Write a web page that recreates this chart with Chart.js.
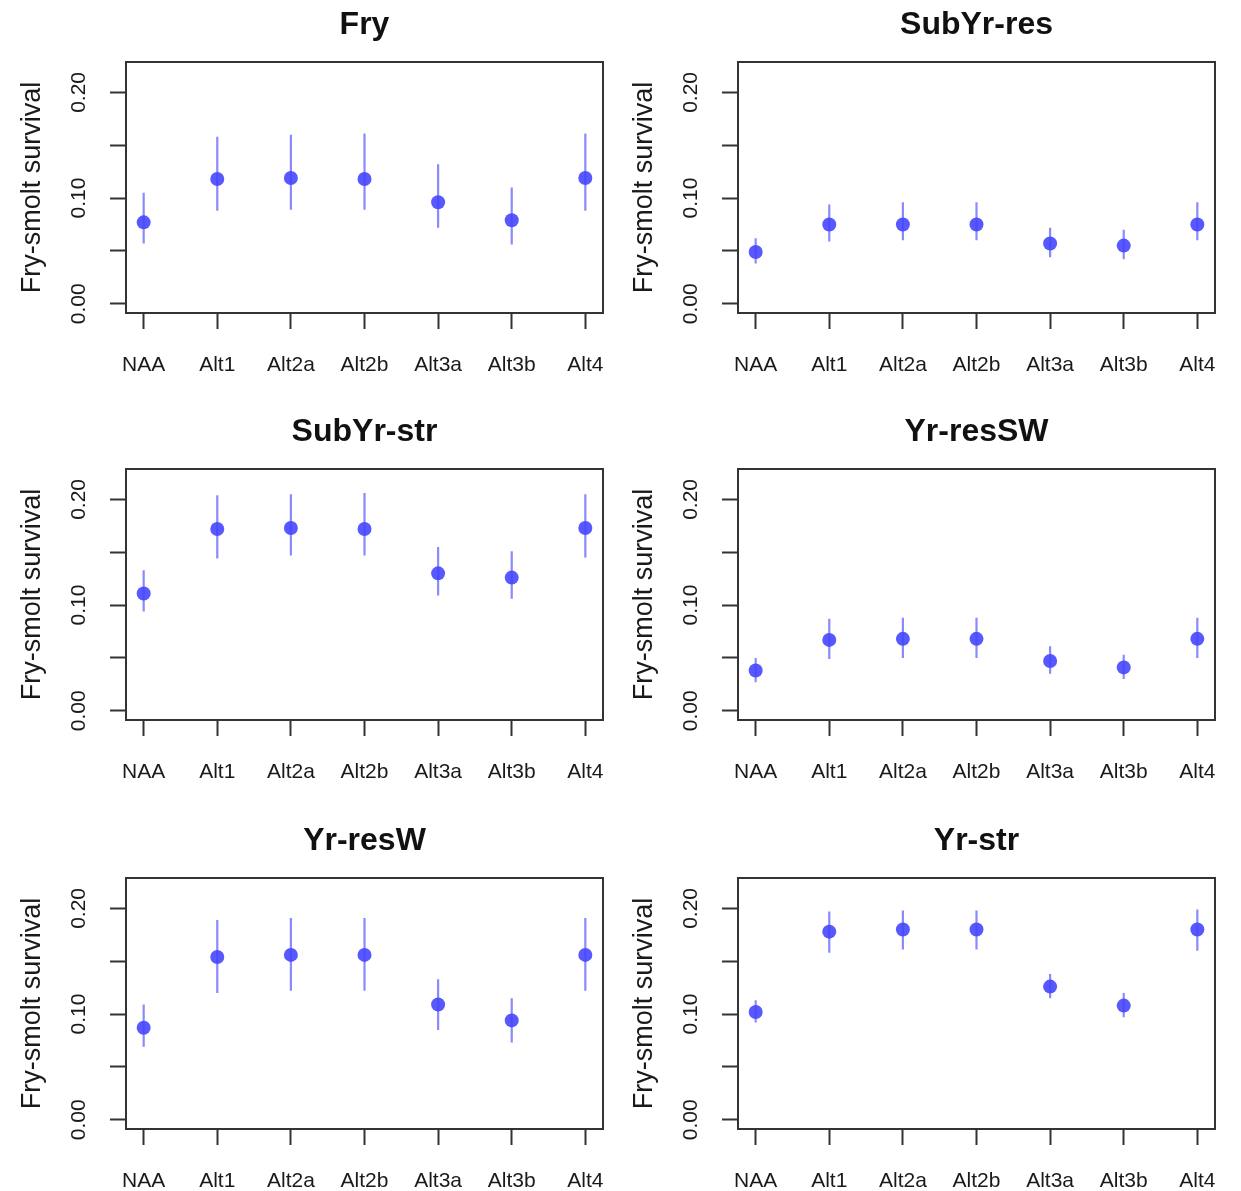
<!DOCTYPE html>
<html>
<head>
<meta charset="utf-8">
<title>Fry-smolt survival by alternative</title>
<script src="https://cdn.jsdelivr.net/npm/chart.js@4.4.1/dist/chart.umd.min.js"></script>
<style>
  html, body { margin: 0; padding: 0; background: #fff; }
  #wrap { position: relative; width: 1241px; height: 1191px; overflow: hidden; }
  #wrap canvas { position: absolute; }
</style>
</head>
<body>
<div id="wrap"></div>
<script>
/* survival estimates (point) with lower / upper interval, per life-history type */
const categories = ['NAA', 'Alt1', 'Alt2a', 'Alt2b', 'Alt3a', 'Alt3b', 'Alt4'];
const yTickValues = [0, 0.05, 0.10, 0.15, 0.20];
const yTickLabels = ['0.00', '', '0.10', '', '0.20'];

const fryEst = [0.077, 0.118, 0.119, 0.118, 0.096, 0.079, 0.119];
const fryLo  = [0.057, 0.088, 0.089, 0.089, 0.072, 0.056, 0.088];
const fryHi  = [0.105, 0.158, 0.160, 0.161, 0.132, 0.110, 0.161];

const subYrResEst = [0.049, 0.075, 0.075, 0.075, 0.057, 0.055, 0.075];
const subYrResLo  = [0.038, 0.059, 0.060, 0.060, 0.044, 0.042, 0.060];
const subYrResHi  = [0.062, 0.094, 0.096, 0.096, 0.072, 0.070, 0.096];

const subYrStrEst = [0.111, 0.172, 0.173, 0.172, 0.130, 0.126, 0.173];
const subYrStrLo  = [0.094, 0.144, 0.147, 0.147, 0.109, 0.106, 0.145];
const subYrStrHi  = [0.133, 0.204, 0.205, 0.206, 0.155, 0.151, 0.205];

const yrResSWEst = [0.038, 0.067, 0.068, 0.068, 0.047, 0.041, 0.068];
const yrResSWLo  = [0.027, 0.049, 0.050, 0.050, 0.035, 0.030, 0.050];
const yrResSWHi  = [0.050, 0.087, 0.088, 0.088, 0.061, 0.053, 0.088];

const yrResWEst = [0.087, 0.154, 0.156, 0.156, 0.109, 0.094, 0.156];
const yrResWLo  = [0.069, 0.120, 0.122, 0.122, 0.085, 0.073, 0.122];
const yrResWHi  = [0.109, 0.189, 0.191, 0.191, 0.133, 0.115, 0.191];

const yrStrEst = [0.102, 0.178, 0.180, 0.180, 0.126, 0.108, 0.180];
const yrStrLo  = [0.092, 0.158, 0.161, 0.161, 0.115, 0.097, 0.160];
const yrStrHi  = [0.113, 0.197, 0.198, 0.198, 0.138, 0.120, 0.199];

(function () {
  'use strict';

  const wrap = document.getElementById('wrap');
  const FONT = "'Liberation Sans', Arial, Helvetica, sans-serif";

  const colors = {
    point: 'rgba(70, 70, 255, 0.9)',
    bar:   'rgba(60, 60, 255, 0.6)',
    axis:  '#333333',
    text:  '#1a1a1a',
    title: '#111111'
  };

  const panels = [
    { title: 'Fry',       est: fryEst,      lo: fryLo,      hi: fryHi,      left: 0,   top: 0 },
    { title: 'SubYr-res', est: subYrResEst, lo: subYrResLo, hi: subYrResHi, left: 612, top: 0 },
    { title: 'SubYr-str', est: subYrStrEst, lo: subYrStrLo, hi: subYrStrHi, left: 0,   top: 407 },
    { title: 'Yr-resSW',  est: yrResSWEst,  lo: yrResSWLo,  hi: yrResSWHi,  left: 612, top: 407 },
    { title: 'Yr-resW',   est: yrResWEst,   lo: yrResWLo,   hi: yrResWHi,   left: 0,   top: 816 },
    { title: 'Yr-str',    est: yrStrEst,    lo: yrStrLo,    hi: yrStrHi,    left: 612, top: 816 }
  ];

  /* R-style closed box around the plot region */
  const boxPlugin = {
    id: 'rbox',
    afterDraw(chart) {
      const { ctx, chartArea: a } = chart;
      ctx.save();
      ctx.strokeStyle = colors.axis;
      ctx.lineWidth = 2;
      ctx.strokeRect(a.left, a.top, a.right - a.left, a.bottom - a.top);
      ctx.restore();
    }
  };

  function makePanel(p) {
    const canvas = document.createElement('canvas');
    canvas.width = 620;
    canvas.height = 390;
    canvas.style.left = p.left + 'px';
    canvas.style.top = p.top + 'px';
    wrap.appendChild(canvas);

    const points = p.est.map((v, i) => ({ x: i + 1, y: v }));
    const whiskers = [];
    p.lo.forEach((v, i) => {
      whiskers.push({ x: i + 1, y: v }, { x: i + 1, y: p.hi[i] }, { x: i + 1, y: null });
    });

    new Chart(canvas, {
      type: 'scatter',
      data: {
        datasets: [
          {
            data: points,
            pointRadius: 7,
            pointHoverRadius: 7,
            pointBackgroundColor: colors.point,
            pointBorderWidth: 0,
            showLine: false,
            order: 0
          },
          {
            type: 'line',
            data: whiskers,
            showLine: true,
            spanGaps: false,
            borderColor: colors.bar,
            borderWidth: 2.2,
            pointRadius: 0,
            fill: false,
            order: 1
          }
        ]
      },
      options: {
        responsive: false,
        animation: false,
        events: [],
        layout: { padding: { left: 0, right: 17, top: 0, bottom: 7 } },
        plugins: {
          legend: { display: false },
          tooltip: { enabled: false },
          title: {
            display: true,
            text: p.title,
            fullSize: false,
            color: colors.title,
            font: { family: FONT, size: 32, weight: 'bold' },
            padding: { top: 6, bottom: 17.6 }
          }
        },
        scales: {
          x: {
            type: 'linear',
            min: 0.76,
            max: 7.24,
            afterBuildTicks: (s) => { s.ticks = categories.map((_, i) => ({ value: i + 1 })); },
            afterFit: (s) => { s.height = 70; s.paddingLeft = 0; s.paddingRight = 0; },
            ticks: {
              autoSkip: false,
              maxRotation: 0,
              padding: 24,
              color: colors.text,
              font: { family: FONT, size: 21 },
              callback: (v) => categories[Math.round(v) - 1]
            },
            grid: { drawOnChartArea: false, tickLength: 16, tickWidth: 2, tickColor: colors.axis },
            border: { display: false }
          },
          y: {
            min: -0.0088,
            max: 0.2288,
            afterBuildTicks: (s) => { s.ticks = yTickValues.map((v) => ({ value: v })); },
            afterFit: (s) => { s.width = 126; s.paddingTop = 0; s.paddingBottom = 0; },
            ticks: {
              autoSkip: false,
              minRotation: 90,
              maxRotation: 90,
              crossAlign: 'center',
              padding: 10,
              color: colors.text,
              font: { family: FONT, size: 21 },
              callback: (v, i) => yTickLabels[i]
            },
            grid: { drawOnChartArea: false, tickLength: 16, tickWidth: 2, tickColor: colors.axis },
            border: { display: false },
            title: {
              display: true,
              text: 'Fry-smolt survival',
              color: colors.text,
              font: { family: FONT, size: 27 },
              padding: { top: 16, bottom: 0 }
            }
          }
        }
      },
      plugins: [boxPlugin]
    });
  }

  panels.forEach(makePanel);
})();
</script>
</body>
</html>
